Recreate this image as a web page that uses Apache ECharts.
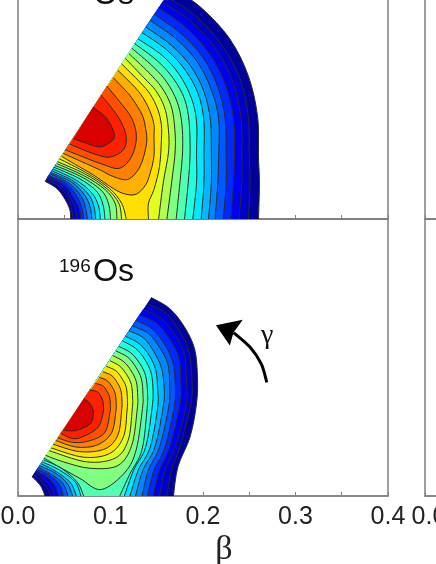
<!DOCTYPE html>
<html><head><meta charset="utf-8">
<style>html,body{margin:0;padding:0;background:#fff}#c{width:436px;height:564px}</style>
<script src="https://cdn.jsdelivr.net/npm/echarts@6/dist/echarts.min.js"></script>
</head><body><div id="c"></div>
<script>
// Contour lines, flat x,y lists in units of 0.001 of beta.
const xTickLabels = ['0.0','0.1','0.2','0.3','0.4'];
const levelColors = ['#00009c','#0000c8','#0000f0','#0028ff','#0058ff','#0088ff','#00b8ff','#00e8ff','#20ffdf','#50ffaf','#80ff80','#b0ff50','#e0ff20','#ffe000','#ffb000','#ff8000','#ff5000','#ff2000','#d80000'];

const topOuter = [
 [171,248,199,228,229,195,249,155,259,111,260,67,261,39,260,0],
 [160,241,192,220,220,189,240,152,249,111,250,70,251,39,249,0],
 [156,235,187,214,214,184,232,149,241,110,242,70,242,39,239,0],
 [152,229,182,207,207,179,224,146,233,109,234,70,233,39,230,0],
 [147,222,176,201,200,175,216,143,224,108,225,70,225,39,222,0],
 [143,215,171,195,194,170,209,140,217,108,217,70,216,39,213,0],
 [138,208,166,188,187,165,201,138,208,107,209,70,209,39,206,0],
 [134,202,161,183,181,161,195,135,201,106,201,70,201,39,198,0],
 [130,195,156,177,174,157,187,132,193,106,193,70,193,39,189,0],
 [126,190,151,171,168,152,180,130,185,105,186,70,184,39,180,0],
 [123,185,146,165,161,148,172,127,177,104,178,75,175,39,171,0],
 [120,179,141,159,155,143,165,124,169,103,170,75,166,39,161,0],
 [116,174,136,153,149,139,158,122,162,103,163,75,157,39,152,0],
 [112,168,132,148,143,135,151,119,155,102,155,85,153,57,147,32,141,17,141,0],
 [108,161,127,142,136,130,143,116,147,102,147,89,147,68,143,50,138,37,128,27,116,27,103,33,81,48,62,59,47,68],
 [103,153,120,135,129,122,135,111,138,98,139,82,132,57,119,43,103,46,89,53,69,62,49,71],
 [96,144,110,127,123,109,128,89,123,68,110,55,92,59,71,67,51,75],
 [90,134,103,118,112,104,117,89,114,75,99,67,81,71,56,81],
 [81,121,95,110,103,96,104,89,101,84,89,78,74,82,60,87]
];
const topInner = [
 [29,41,42,33,51,21,56,10,57,0],
 [30,42,45,35,54,22,58,10,60,0],
 [31,44,48,36,57,22,62,11,64,0],
 [32,46,50,37,60,23,66,12,68,0],
 [33,47,53,38,64,24,69,12,71,0],
 [35,49,55,39,68,25,73,12,75,0],
 [36,50,58,40,72,26,78,13,80,0],
 [37,52,60,41,76,27,82,14,84,0],
 [38,54,63,42,80,28,87,14,89,0],
 [39,56,66,44,85,30,92,15,94,0],
 [40,58,68,46,90,31,98,16,100,0],
 [42,60,71,47,94,32,105,17,107,0],
 [43,62,72,49,96,33,109,17,112,0],
 [45,65,74,50,99,33,112,17,117,0]
];
const bottomOuter = [
 [144,215,164,203,180,183,191,159,194,129,193,100,186,64,173,32,168,0],
 [140,208,160,198,175,178,185,156,188,127,187,100,175,53,166,28,161,0],
 [135,202,155,192,170,174,180,153,182,125,182,99,170,53,159,28,153,0],
 [131,196,150,187,164,170,174,150,176,123,175,99,164,53,153,28,146,0],
 [128,190,145,181,158,165,167,146,170,121,169,98,159,53,147,28,140,0],
 [124,184,141,176,153,161,162,143,164,119,163,97,153,53,141,28,134,0],
 [120,179,136,171,147,156,155,139,158,117,157,97,148,53,135,28,127,0],
 [116,173,131,165,142,152,149,136,151,115,151,96,143,53,130,28,121,0],
 [113,168,127,160,137,148,144,133,146,113,145,96,138,53,125,28,115,0],
 [109,162,122,155,132,143,138,130,140,112,139.6,95,134,50,121,24,110,0],
 [106,157,118.6,150.4,127.4,139.5,133.4,126.9,135.1,109.9,134.5,94.6,128,51,116,26,90,7,67,19,42,33,28,41],
 [102.5,152,114.3,145.5,122.4,135.4,127.9,123.8,129.4,108.2,128.9,94,123,55,108,33,78,30,49,37,30,44],
 [99.5,146.5,110.1,140.6,117.5,131.4,122.5,120.8,123.9,106.4,123.5,93.5,119,60,105,41,74,37,34,49],
 [95.5,140.5,105.7,135.7,112.4,127.3,117,117.7,118.3,104.7,117.9,93,114,64,99,46,71,42,36,52],
 [92,134.5,101.2,130.5,107.2,123,111.3,114.4,112.4,102.8,112,92.4,108,66,94,51,67,48,38,56],
 [88,128.5,96.3,125,101.5,118.5,105.1,111,106.1,100.9,105.8,91.7,101,68,85,55,63,53,41,60],
 [83.5,122,91.5,119.5,95.9,113.9,99,107.5,99.8,98.9,99.5,91.1,94,69,78,60,60,58,43,63],
 [77.5,115,85.7,112.9,89.3,108.5,91.7,103.4,92.4,96.6,92.1,90.4,87,75,74,66,60,62,46,68],
 [71,105,76,102,80,96,81.5,89,78,78,63,71,49,71]
];
const bottomInner = [
 [15,21,23,13,27,6,29,0],
 [17,23,26,15,32,8,35,0],
 [19,26,28,18,36,10,39,0],
 [20,27,32,20,40,11,44,0],
 [21,29,35,22,45,12,49,0],
 [22,31,37,23,49,13,54,0],
 [23,33,40,25,53,14,59,0],
 [25,35,42,26,57,14,63,0],
 [26,37,45,28,62,15,68,0],
 [28,39,47,30,64,15,71,0]
];
const gammaArrowShaft = [269,123,263,143,251,161,233,177];
const gammaArrowHead = [214,185,243,191,233,177,229,163];

const pairs = f => { const o = []; for (let i = 0; i < f.length; i += 2) o.push([f[i] / 1000, f[i + 1] / 1000]); return o; };
function spline(p, api, move) {
  const q = p.map(v => api.coord(v));
  let d = (move ? 'M' : 'L') + q[0][0] + ' ' + q[0][1];
  for (let i = 0; i < q.length - 1; i++) {
    const a = q[Math.max(i - 1, 0)], b = q[i], c = q[i + 1], e = q[Math.min(i + 2, q.length - 1)];
    d += 'C' + (b[0] + (c[0] - a[0]) / 6) + ' ' + (b[1] + (c[1] - a[1]) / 6) + ' ' +
         (c[0] - (e[0] - b[0]) / 6) + ' ' + (c[1] - (e[1] - b[1]) / 6) + ' ' + c[0] + ' ' + c[1];
  }
  return d;
}
function contourSeries(outer, inner, g) {
  return {
    type: 'custom', coordinateSystem: 'cartesian2d', xAxisIndex: g, yAxisIndex: g, silent: true, clip: false,
    data: outer.map((_, i) => i),
    renderItem(params, api) {
      const i = params.dataIndex;
      const o = pairs(outer[i]);
      const n = inner[i] ? pairs(inner[i]).reverse() : null;
      const fill = spline(o, api, true) + (n ? spline(n, api, false) : '') + 'Z';
      let line = spline(o, api, true);
      if (n) line += spline(n, api, true);
      return { type: 'group', children: [
        { type: 'path', shape: { pathData: fill }, style: { fill: levelColors[i], stroke: null } },
        { type: 'path', shape: { pathData: line }, style: { fill: null, stroke: '#2a2a2a', lineWidth: 1 } }
      ] };
    }
  };
}
const arrowSeries = {
  type: 'custom', coordinateSystem: 'cartesian2d', xAxisIndex: 1, yAxisIndex: 1, silent: true, data: [0],
  renderItem(params, api) {
    return { type: 'group', children: [
      { type: 'path', shape: { pathData: spline(pairs(gammaArrowShaft), api, true) }, style: { fill: null, stroke: '#000', lineWidth: 3 } },
      { type: 'polygon', shape: { points: pairs(gammaArrowHead).map(v => api.coord(v)) }, style: { fill: '#000' } }
    ] };
  }
};

const grids = [
  { left: 18, top: -58, width: 370, height: 277 },
  { left: 18, top: 219, width: 370, height: 277 },
  { left: 425, top: -58, width: 370, height: 277 },
  { left: 425, top: 219, width: 370, height: 277 }
].map(g => Object.assign(g, { show: true, outerBoundsMode: 'none', containLabel: false, borderColor: '#808080', borderWidth: 1.5, backgroundColor: 'transparent' }));

const labelled = i => i === 1 || i === 3;
const xAxes = grids.map((_, i) => ({
  type: 'value', gridIndex: i, min: 0, max: 0.4, interval: 0.1, splitLine: { show: false },
  axisLine: { show: true, lineStyle: { color: '#808080', width: 1.5 } },
  axisTick: { show: true, inside: true, length: 4, lineStyle: { color: '#808080' } },
  minorTick: { show: true, splitNumber: 2, length: 4, lineStyle: { color: '#808080' } },
  axisLabel: { show: labelled(i), margin: 9, color: '#222', fontFamily: 'Liberation Sans', fontSize: 25, hideOverlap: false,
    showMinLabel: true, showMaxLabel: true, padding: i === 3 ? [0, 0, 0, 8] : 0,
    formatter: v => xTickLabels[Math.round(v * 10)] },
  name: i === 1 ? 'β' : '', nameLocation: 'middle', nameGap: 37,
  nameTextStyle: { fontFamily: 'Liberation Serif', fontSize: 34, color: '#222', padding: [0, 0, 0, 42] }
}));
const yAxes = grids.map((_, i) => ({
  type: 'value', gridIndex: i, min: 0, max: 0.3, show: false
}));

const txt = (text, x, y, size, fam) => ({ type: 'text', x, y, style: { text, fontSize: size, fontFamily: fam, fill: '#111', verticalAlign: 'bottom' } });

echarts.init(document.getElementById('c'), null, { renderer: 'canvas' }).setOption({
  animation: false, backgroundColor: '#fff',
  grid: grids, xAxis: xAxes, yAxis: yAxes,
  series: [contourSeries(topOuter, topInner, 0), contourSeries(bottomOuter, bottomInner, 1), arrowSeries],
  graphic: [
    txt('Os', 93, 11, 32, 'Liberation Sans'),
    txt('196', 59, 276, 19, 'Liberation Sans'),
    txt('Os', 93, 288, 32, 'Liberation Sans'),
    txt('γ', 261, 350, 28, 'Liberation Serif')
  ]
});
</script></body></html>
